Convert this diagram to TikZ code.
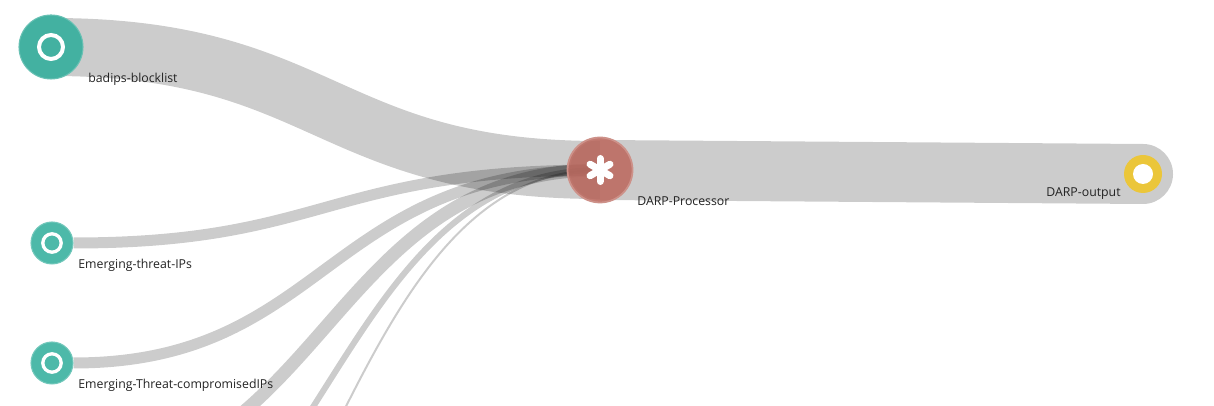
\documentclass[tikz,border=0pt]{standalone}
\usepackage{fontspec}
\newfontfamily\lblfont{Open Sans}
\usepackage{xcolor}
\usepackage{tikz}
\usetikzlibrary{backgrounds}
\definecolor{badteal}{RGB}{67,177,161}
\definecolor{srcteal}{RGB}{77,185,169}
\definecolor{procred}{RGB}{188,108,98}
\definecolor{outyellow}{RGB}{235,198,58}
\definecolor{lbltext}{RGB}{34,34,34}
\tikzset{
  srcnode/.style={circle, fill=srcteal, draw=srcteal!80!white, line width=0.6pt,
    inner sep=0pt, minimum size=0.84cm},
  procnode/.style={circle, fill=procred, fill opacity=0.9, draw=procred!75!white, line width=1pt,
    inner sep=0pt, minimum size=1.3cm},
  outnode/.style={circle, fill=outyellow, inner sep=0pt, minimum size=0.76cm},
  link/.style={draw=black, draw opacity=0.2},
  ring/.style={draw=white},
  lbl/.style={font=\lblfont\fontsize{7}{8.4}\selectfont, text=lbltext, inner sep=0pt, anchor=base west}
}

\begin{document}
\begin{tikzpicture}
\useasboundingbox (0,0) rectangle (24.28,8.12);
%--- sources (left) ---
\node[srcnode, minimum size=1.28cm, fill=badteal, draw=badteal!80!white] (badips) at (1.02,7.18) {};
\node[srcnode] (threat) at (1.04,3.26) {};
\node[srcnode] (comp) at (1.04,0.86) {};
% feeds below the visible area
\coordinate (feedA) at (1.04,-1.54);
\coordinate (feedB) at (1.04,-3.94);
\coordinate (feedC) at (1.04,-6.34);
% white rings
\draw[ring, line width=0.08cm] (badips.center) circle (0.24);
\foreach \n in {threat,comp} { \draw[ring, line width=0.066cm] (\n.center) circle (0.184); }

%--- processor ---
\node[procnode] (proc) at (12.0,4.72) {};
\foreach \a in {90,30,-30} { \draw[white, line width=0.14cm, line cap=round] (proc.center) ++(\a:0.23) -- ++(\a+180:0.46); }

%--- output ---
\node[outnode] (out) at (22.86,4.64) {};
\fill[white] (out.center) circle (0.2);

% labels
\node[lbl] (badipslbl) at (1.76,6.47) {badips-blocklist};
\node[lbl] (threatlbl) at (1.56,2.75) {Emerging-threat-IPs};
\node[lbl] (complbl) at (1.56,0.34) {Emerging-Threat-compromisedIPs};
\node[lbl] (proclbl) at (12.74,4.0) {DARP-Processor};
\node[lbl] (outlbl) at (20.92,4.18) {DARP-output};

% links
\begin{scope}[on background layer]
\clip (0,0) rectangle (24.28,8.12);
\draw[link, line width=1.16cm] (badips.center) .. controls +(5.49,0) and +(-5.49,0) .. (proc.center);
\foreach \src/\w in {threat/0.22, comp/0.22, feedA/0.26, feedB/0.12, feedC/0.04} {
  \draw[link, line width=\w cm] (\src) .. controls +(5.48,0) and +(-5.48,0) .. (proc.center);
}
\draw[link, line width=1.2cm, line cap=round] (proc.center) -- (out.center);
\end{scope}
\end{tikzpicture}
\end{document}
